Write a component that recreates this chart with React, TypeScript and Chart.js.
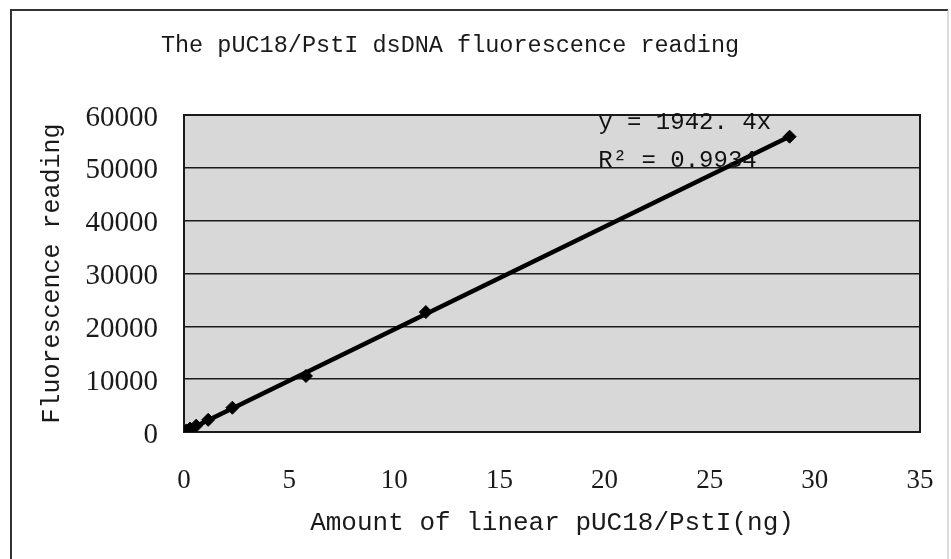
import React, { useEffect, useRef } from 'react';
import { Chart, registerables } from 'chart.js';

Chart.register(...registerables);

// ---- data ----
const amountNg = [0.115, 0.29, 0.58, 1.15, 2.3, 5.8, 11.5, 28.8];
const fluorescence = [300, 650, 1200, 2300, 4600, 10600, 22700, 55900];
const trendX = [0, 28.8];
const trendY = [0, 55940];
const xTickValues = [0, 5, 10, 15, 20, 25, 30, 35];
const yTickValues = [0, 10000, 20000, 30000, 40000, 50000, 60000];

const chartTitle = 'The pUC18/PstI dsDNA fluorescence reading';
const xAxisTitle = 'Amount of linear pUC18/PstI(ng)';
const yAxisTitle = 'Fluorescence reading';
const equationLines = ['y = 1942. 4x', 'R\u00B2 = 0.9934'];
const equationAnchorX = 19.7;
const equationAnchorY = [58500, 51400];

const INK = '#1a1a1a';

const backgroundPlugin = {
  id: 'bgFrame',
  beforeDraw(chart: any) {
    const { ctx, width, height, chartArea } = chart;
    ctx.save();
    ctx.fillStyle = '#ffffff';
    ctx.fillRect(0, 0, width, height);
    // outer frame of the scanned figure
    ctx.strokeStyle = '#333333';
    ctx.lineWidth = 2;
    ctx.beginPath();
    ctx.moveTo(11, height);
    ctx.lineTo(11, 10);
    ctx.lineTo(width - 3, 10);
    ctx.stroke();
    ctx.strokeStyle = '#bbbbbb';
    ctx.lineWidth = 1;
    ctx.beginPath();
    ctx.moveTo(width - 3, 10);
    ctx.lineTo(width - 3, height);
    ctx.stroke();
    // plot area fill
    ctx.fillStyle = '#d8d8d8';
    ctx.fillRect(chartArea.left, chartArea.top, chartArea.right - chartArea.left, chartArea.bottom - chartArea.top);
    // chart title
    ctx.fillStyle = INK;
    ctx.font = '23.5px "Liberation Mono", monospace';
    ctx.textAlign = 'center';
    ctx.textBaseline = 'middle';
    ctx.fillText(chartTitle, 450, 46);
    ctx.restore();
  },
  beforeDatasetsDraw(chart: any) {
    const { ctx, chartArea } = chart;
    ctx.save();
    ctx.strokeStyle = INK;
    ctx.lineWidth = 2;
    ctx.strokeRect(chartArea.left, chartArea.top, chartArea.right - chartArea.left, chartArea.bottom - chartArea.top);
    ctx.restore();
  },
};

const equationPlugin = {
  id: 'equation',
  afterDatasetsDraw(chart: any) {
    const { ctx, scales } = chart;
    const x = scales.x.getPixelForValue(equationAnchorX);
    ctx.save();
    ctx.fillStyle = '#111111';
    ctx.font = '24px "Liberation Mono", monospace';
    ctx.textAlign = 'left';
    ctx.textBaseline = 'middle';
    equationLines.forEach((line, i) => {
      ctx.fillText(line, x, scales.y.getPixelForValue(equationAnchorY[i]));
    });
    ctx.restore();
  },
};

export default function App() {
  const canvasRef = useRef<HTMLCanvasElement | null>(null);

  useEffect(() => {
    if (!canvasRef.current) return;
    const chart = new Chart(canvasRef.current, {
      type: 'scatter',
      data: {
        datasets: [
          {
            label: 'Fluorescence',
            data: amountNg.map((x, i) => ({ x, y: fluorescence[i] })),
            pointStyle: 'rectRot',
            pointRadius: 6.5,
            pointBackgroundColor: '#000000',
            pointBorderColor: '#000000',
            pointBorderWidth: 1,
            showLine: false,
          },
          {
            label: 'Linear trend',
            data: trendX.map((x, i) => ({ x, y: trendY[i] })),
            showLine: true,
            borderColor: '#000000',
            borderWidth: 4.5,
            pointRadius: 0,
            fill: false,
          } as any,
        ],
      },
      options: {
        responsive: false,
        animation: false,
        layout: { padding: { left: 40, right: 31, top: 115, bottom: 0 } },
        plugins: {
          legend: { display: false },
          tooltip: { enabled: false },
          title: { display: false },
        },
        scales: {
          x: {
            type: 'linear',
            min: 0,
            max: 35,
            afterBuildTicks: (scale: any) => {
              scale.ticks = xTickValues.map((v) => ({ value: v }));
            },
            afterFit: (scale: any) => {
              scale.height = 127;
              scale.paddingLeft = 0;
              scale.paddingRight = 0;
            },
            grid: { display: false, drawTicks: false },
            border: { display: false },
            ticks: {
              color: INK,
              padding: 33,
              maxRotation: 0,
              font: { family: '"Liberation Serif", serif', size: 27 },
            },
            title: {
              display: true,
              text: xAxisTitle,
              color: INK,
              font: { family: '"Liberation Mono", monospace', size: 26, lineHeight: 1 },
              padding: { top: 0, bottom: 23 },
            },
          },
          y: {
            type: 'linear',
            min: 0,
            max: 60000,
            afterBuildTicks: (scale: any) => {
              scale.ticks = yTickValues.map((v) => ({ value: v }));
            },
            afterFit: (scale: any) => {
              scale.width = 144;
              scale.paddingTop = 0;
              scale.paddingBottom = 0;
            },
            grid: { color: INK, lineWidth: 1.5, drawTicks: false },
            border: { display: false },
            ticks: {
              color: INK,
              padding: 26,
              labelOffset: 3,
              font: { family: '"Liberation Serif", serif', size: 29 },
              callback: (v: any) => String(v),
            },
            title: {
              display: true,
              text: yAxisTitle,
              color: INK,
              font: { family: '"Liberation Mono", monospace', size: 25, lineHeight: 1 },
              padding: { top: 0, bottom: 0 },
            },
          },
        },
      },
      plugins: [backgroundPlugin, equationPlugin],
    });
    return () => chart.destroy();
  }, []);

  return (
    <div style={{ position: 'absolute', left: 0, top: 0, width: 951, height: 559, background: '#fff' }}>
      <canvas ref={canvasRef} width={951} height={559} style={{ display: 'block' }} />
    </div>
  );
}
